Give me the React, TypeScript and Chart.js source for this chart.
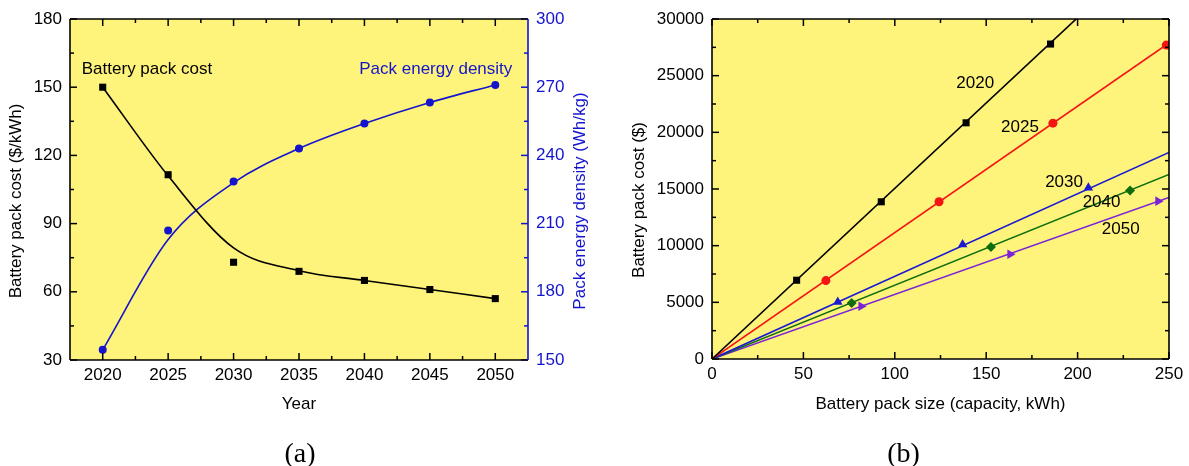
import React, { useEffect, useRef } from "react";
import { Chart, registerables } from "chart.js";

Chart.register(...registerables);

const FONT = '"Liberation Sans", Arial, Helvetica, sans-serif';
const SERIF = '"Liberation Serif", "Times New Roman", Times, serif';
const FONT_SIZE = 17;
const PANEL_BG = "#FFF47B";
const DENSITY_BLUE = "#1414CC";

// ---------- Panel (a) data ----------
const years = [2020, 2025, 2030, 2035, 2040, 2045, 2050];
const packCost = [150, 111.5, 73, 69, 65, 61, 57];
const packCostFit = [150, 111, 79.3, 69.3, 65, 61, 57];
const packDensity = [154.5, 207, 228.5, 243, 254, 263.3, 271];
const packDensityFit = [154.5, 203, 228, 243, 254, 263.3, 271];
const yearTicks = [2020, 2025, 2030, 2035, 2040, 2045, 2050];
const costTicks = [30, 60, 90, 120, 150, 180];
const densityTicks = [150, 180, 210, 240, 270, 300];

// ---------- Panel (b) data ----------
const sizeTicks = [0, 50, 100, 150, 200, 250];
const priceTicks = [0, 5000, 10000, 15000, 20000, 25000, 30000];
const size2020 = [46.3, 92.6, 139, 185.2];
const price2020 = [6950, 13870, 20840, 27790];
const size2025 = [62.3, 124.2, 186.5, 248.5];
const price2025 = [6920, 13870, 20810, 27700];
const size2030 = [68.8, 137.1, 205.9];
const price2030 = [5030, 10100, 15100];
const size2040 = [76.4, 152.6, 228.7];
const price2040 = [4950, 9890, 14870];
const size2050 = [81.6, 163.1, 244];
const price2050 = [4650, 9250, 13930];
const lineStart = { x: 0, y: 0 };
const lineEndSize = 250;
const lineEndPrice2020 = 37650;
const lineEndPrice2025 = 27880;
const lineEndPrice2030 = 18230;
const lineEndPrice2040 = 16290;
const lineEndPrice2050 = 14250;

type Side = "top" | "bottom" | "left" | "right";

interface Decor {
  ticks: { scale: string; sides: Side[]; color: string }[];
  border: Record<Side, string>;
  titles: { text: string; side: Side; offset: number; along?: number; color: string }[];
  labels: { text: string; x: number; y: number; yScale: string; color: string; align: CanvasTextAlign }[];
  caption: { text: string; x: number };
}

function decorPlugin(id: string, d: Decor) {
  return {
    id,
    beforeDraw(chart: any) {
      const { ctx, chartArea: a } = chart;
      ctx.save();
      ctx.fillStyle = PANEL_BG;
      ctx.fillRect(a.left, a.top, a.right - a.left, a.bottom - a.top);
      ctx.restore();
    },
    afterDraw(chart: any) {
      const { ctx, chartArea: a } = chart;
      ctx.save();
      // ticks (inward)
      ctx.lineWidth = 1.5;
      for (const rule of d.ticks) {
        const sc = chart.scales[rule.scale];
        const majors: number[] = sc.ticks.map((t: any) => t.value);
        const minors = majors.slice(1).map((v, i) => (v + majors[i]) / 2);
        const all: [number, number][] = [
          ...majors.map((v) => [v, 7] as [number, number]),
          ...minors.map((v) => [v, 4] as [number, number]),
        ];
        ctx.strokeStyle = rule.color;
        for (const side of rule.sides) {
          for (const [v, len] of all) {
            const p = sc.getPixelForValue(v);
            ctx.beginPath();
            if (side === "bottom") { ctx.moveTo(p, a.bottom); ctx.lineTo(p, a.bottom - len); }
            if (side === "top") { ctx.moveTo(p, a.top); ctx.lineTo(p, a.top + len); }
            if (side === "left") { ctx.moveTo(a.left, p); ctx.lineTo(a.left + len, p); }
            if (side === "right") { ctx.moveTo(a.right, p); ctx.lineTo(a.right - len, p); }
            ctx.stroke();
          }
        }
      }
      // frame
      ctx.lineWidth = 1.6;
      const seg = (c: string, x1: number, y1: number, x2: number, y2: number) => {
        ctx.strokeStyle = c;
        ctx.beginPath();
        ctx.moveTo(x1, y1);
        ctx.lineTo(x2, y2);
        ctx.stroke();
      };
      seg(d.border.top, a.left, a.top, a.right, a.top);
      seg(d.border.bottom, a.left, a.bottom, a.right, a.bottom);
      seg(d.border.left, a.left, a.top, a.left, a.bottom);
      seg(d.border.right, a.right, a.top, a.right, a.bottom);

      // annotations
      ctx.font = `${FONT_SIZE}px ${FONT}`;
      ctx.textBaseline = "middle";
      for (const l of d.labels) {
        ctx.fillStyle = l.color;
        ctx.textAlign = l.align;
        ctx.fillText(l.text, chart.scales.x.getPixelForValue(l.x), chart.scales[l.yScale].getPixelForValue(l.y));
      }
      // axis titles
      for (const t of d.titles) {
        ctx.fillStyle = t.color;
        ctx.textAlign = "center";
        ctx.textBaseline = "middle";
        if (t.side === "bottom") {
          ctx.fillText(t.text, (a.left + a.right) / 2, a.bottom + t.offset);
        } else {
          const x = t.side === "left" ? a.left - t.offset : a.right + t.offset;
          const y = a.top + (t.along ?? (a.bottom - a.top) / 2);
          ctx.save();
          ctx.translate(x, y);
          ctx.rotate(-Math.PI / 2);
          ctx.fillText(t.text, 0, 0);
          ctx.restore();
        }
      }
      // caption
      ctx.fillStyle = "#000";
      ctx.font = `28px ${SERIF}`;
      ctx.textAlign = "center";
      ctx.textBaseline = "alphabetic";
      ctx.fillText(d.caption.text, d.caption.x, 462);
      ctx.restore();
    },
  };
}

const tickFont = { family: FONT, size: FONT_SIZE };

function axis(min: number, max: number, ticks: number[], color: string, extra: any) {
  return {
    type: "linear",
    min,
    max,
    afterBuildTicks: (s: any) => {
      s.ticks = ticks.map((v) => ({ value: v }));
    },
    grid: { display: false, drawTicks: false },
    border: { display: false },
    ticks: {
      font: tickFont,
      color,
      autoSkip: false,
      maxRotation: 0,
      callback: (v: any) => String(v),
    },
    ...extra,
  };
}

const pts = (xs: number[], ys: number[]) => xs.map((x, i) => ({ x, y: ys[i] }));

export default function App() {
  const leftRef = useRef<HTMLCanvasElement>(null);
  const rightRef = useRef<HTMLCanvasElement>(null);

  useEffect(() => {
    const charts: Chart[] = [];
    if (leftRef.current) {
      charts.push(
        new Chart(leftRef.current, {
          type: "scatter",
          data: {
            datasets: [
              {
                data: pts(years, packCost), yAxisID: "yCost", pointStyle: "rect", pointRadius: 5,
                backgroundColor: "#000", borderColor: "#000", pointBorderWidth: 0, order: 0, clip: 0,
              } as any,
              {
                data: pts(years, packDensity), yAxisID: "yDens", pointStyle: "circle", pointRadius: 4,
                backgroundColor: DENSITY_BLUE, borderColor: DENSITY_BLUE, pointBorderWidth: 0, order: 0, clip: 0,
              },
              {
                data: pts(years, packCostFit), yAxisID: "yCost", showLine: true, pointRadius: 0,
                borderColor: "#000", borderWidth: 1.6, cubicInterpolationMode: "monotone", order: 1, clip: 0,
              },
              {
                data: pts(years, packDensityFit), yAxisID: "yDens", showLine: true, pointRadius: 0,
                borderColor: DENSITY_BLUE, borderWidth: 1.6, cubicInterpolationMode: "monotone", order: 1, clip: 0,
              },
            ],
          },
          options: {
            responsive: false,
            animation: false,
            events: [],
            layout: { padding: { top: 19, left: 0, right: 0, bottom: 0 } },
            plugins: { legend: { display: false }, tooltip: { enabled: false } },
            scales: {
              x: axis(2017.5, 2052.5, yearTicks, "#000", {
                afterFit: (s: any) => { s.height = 106; },
                ticks: { font: tickFont, color: "#000", autoSkip: false, maxRotation: 0, padding: 5, callback: (v: any) => String(v) },
              }),
              yCost: axis(30, 180, costTicks, "#000", {
                position: "left",
                afterFit: (s: any) => { s.width = 70; },
                ticks: { font: tickFont, color: "#000", autoSkip: false, padding: 8, callback: (v: any) => String(v) },
              }),
              yDens: axis(150, 300, densityTicks, DENSITY_BLUE, {
                position: "right",
                afterFit: (s: any) => { s.width = 66; },
                ticks: { font: tickFont, color: DENSITY_BLUE, autoSkip: false, padding: 8, callback: (v: any) => String(v) },
              }),
            },
          } as any,
          plugins: [
            decorPlugin("decorA", {
              ticks: [
                { scale: "x", sides: ["bottom", "top"], color: "#000" },
                { scale: "yCost", sides: ["left"], color: "#000" },
                { scale: "yDens", sides: ["right"], color: DENSITY_BLUE },
              ],
              border: { top: "#000", bottom: "#000", left: "#000", right: DENSITY_BLUE },
              titles: [
                { text: "Battery pack cost ($/kWh)", side: "left", offset: 53.5, along: 182, color: "#000" },
                { text: "Pack energy density (Wh/kg)", side: "right", offset: 52, along: 182, color: DENSITY_BLUE },
                { text: "Year", side: "bottom", offset: 44, color: "#000" },
              ],
              labels: [
                { text: "Battery pack cost", x: 2018.4, y: 157.7, yScale: "yCost", color: "#000", align: "left" },
                { text: "Pack energy density", x: 2051.3, y: 157.7, yScale: "yCost", color: DENSITY_BLUE, align: "right" },
              ],
              caption: { text: "(a)", x: 300 },
            }),
          ],
        })
      );
    }
    if (rightRef.current) {
      const series = [
        { xs: size2020, ys: price2020, end: lineEndPrice2020, color: "#000000", style: "rect", r: 5, rot: 0 },
        { xs: size2025, ys: price2025, end: lineEndPrice2025, color: "#F51414", style: "circle", r: 4.5, rot: 0 },
        { xs: size2030, ys: price2030, end: lineEndPrice2030, color: "#1A1AD2", style: "triangle", r: 5.5, rot: 0 },
        { xs: size2040, ys: price2040, end: lineEndPrice2040, color: "#0E6E0E", style: "rectRot", r: 5, rot: 0 },
        { xs: size2050, ys: price2050, end: lineEndPrice2050, color: "#7A22D8", style: "triangle", r: 5.5, rot: 90 },
      ];
      const datasets: any[] = [];
      for (const s of series) {
        datasets.push({
          data: pts(s.xs, s.ys), pointStyle: s.style, pointRadius: s.r, pointRotation: s.rot,
          backgroundColor: s.color, borderColor: s.color, pointBorderWidth: 0, order: 0, clip: 0,
        });
        datasets.push({
          data: [lineStart, { x: lineEndSize, y: s.end }], showLine: true, pointRadius: 0,
          borderColor: s.color, borderWidth: 1.6, order: 1, clip: 0,
        });
      }
      charts.push(
        new Chart(rightRef.current, {
          type: "scatter",
          data: { datasets },
          options: {
            responsive: false,
            animation: false,
            events: [],
            layout: { padding: { top: 19, left: 0, right: 20, bottom: 0 } },
            plugins: { legend: { display: false }, tooltip: { enabled: false } },
            scales: {
              x: axis(0, 250, sizeTicks, "#000", {
                afterFit: (s: any) => { s.height = 107; },
                ticks: { font: tickFont, color: "#000", autoSkip: false, maxRotation: 0, padding: 5, callback: (v: any) => String(v) },
              }),
              y: axis(0, 30000, priceTicks, "#000", {
                position: "left",
                afterFit: (s: any) => { s.width = 118; },
                ticks: { font: tickFont, color: "#000", autoSkip: false, padding: 8, callback: (v: any) => String(v) },
              }),
            },
          } as any,
          plugins: [
            decorPlugin("decorB", {
              ticks: [
                { scale: "x", sides: ["bottom", "top"], color: "#000" },
                { scale: "y", sides: ["left", "right"], color: "#000" },
              ],
              border: { top: "#000", bottom: "#000", left: "#000", right: "#000" },
              titles: [
                { text: "Battery pack cost ($)", side: "left", offset: 72.5, along: 181, color: "#000" },
                { text: "Battery pack size (capacity, kWh)", side: "bottom", offset: 45.5, color: "#000" },
              ],
              labels: [
                { text: "2020", x: 144, y: 24330, yScale: "y", color: "#000", align: "center" },
                { text: "2025", x: 168.5, y: 20420, yScale: "y", color: "#000", align: "center" },
                { text: "2030", x: 192.6, y: 15600, yScale: "y", color: "#000", align: "center" },
                { text: "2040", x: 213.1, y: 13800, yScale: "y", color: "#000", align: "center" },
                { text: "2050", x: 223.6, y: 11400, yScale: "y", color: "#000", align: "center" },
              ],
              caption: { text: "(b)", x: 309.5 },
            }),
          ],
        })
      );
    }
    return () => charts.forEach((c) => c.destroy());
  }, []);

  return (
    <div style={{ position: "absolute", left: 0, top: 0, width: 1189, height: 466, background: "#fff", overflow: "hidden" }}>
      <canvas ref={leftRef} width={594} height={466} style={{ position: "absolute", left: 0, top: 0, width: 594, height: 466 }} />
      <canvas ref={rightRef} width={595} height={466} style={{ position: "absolute", left: 594, top: 0, width: 595, height: 466 }} />
    </div>
  );
}
